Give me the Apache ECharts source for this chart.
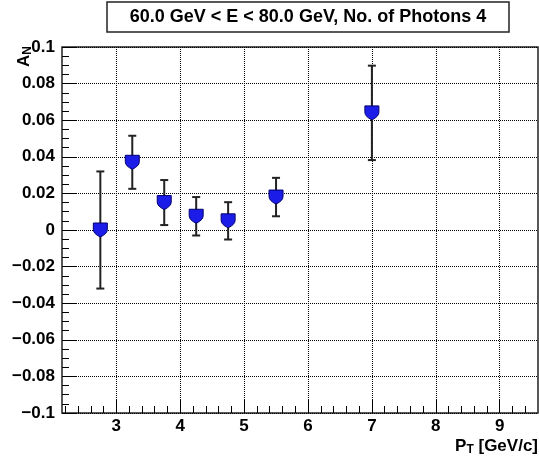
<!DOCTYPE html>
<html>
<head>
<meta charset="utf-8">
<script src="https://cdn.jsdelivr.net/npm/echarts@6/dist/echarts.min.js"></script>
<style>
  html, body { margin: 0; padding: 0; background: #fff; }
  #chart { width: 539px; height: 458px; }
</style>
</head>
<body>
<div id="chart"></div>
<script>
// A_N vs P_T, 60-80 GeV, 4 photons
const titleText = '60.0 GeV < E < 80.0 GeV, No. of Photons 4'
const ptValues = [2.75, 3.25, 3.75, 4.25, 4.75, 5.5, 7.0]
const anValues = [0.0, 0.037, 0.015, 0.0075, 0.005, 0.018, 0.064]
const anErrors = [0.032, 0.0145, 0.0123, 0.0105, 0.0102, 0.0105, 0.0258]
const xMajorTicks = [3, 4, 5, 6, 7, 8, 9]
const xMinorTicks = [2.2, 2.4, 2.6, 2.8, 3.2, 3.4, 3.6, 3.8, 4.2, 4.4, 4.6, 4.8,
  5.2, 5.4, 5.6, 5.8, 6.2, 6.4, 6.6, 6.8, 7.2, 7.4, 7.6, 7.8,
  8.2, 8.4, 8.6, 8.8, 9.2, 9.4]

const FONT = 'Liberation Sans, Arial, Helvetica, sans-serif'

const chart = echarts.init(document.getElementById('chart'))

const pointData = ptValues.map((x, i) => [x, anValues[i], anErrors[i]])

const fmtY = v => {
  const r = Math.round(v * 100) / 100
  if (r === 0) return '0'
  return r < 0 ? '\u2212' + String(-r) : String(r)
}

const option = {
  backgroundColor: '#fff',
  animation: false,
  grid: {
    left: 62, top: 47, right: 1, bottom: 45,
    show: true,
    borderColor: '#222',
    borderWidth: 1.5,
    backgroundColor: 'transparent'
  },
  xAxis: [
    {
      type: 'value',
      min: 2.15,
      max: 9.6,
      axisLine: { show: false, onZero: false },
      axisTick: {
        show: true, inside: true, length: 14,
        customValues: xMajorTicks,
        lineStyle: { color: '#000', width: 1 }
      },
      axisLabel: {
        customValues: xMajorTicks,
        margin: 5,
        color: '#000',
        fontFamily: FONT,
        fontWeight: 'bold',
        fontSize: 17
      },
      splitLine: {
        show: true,
        lineStyle: { color: '#000', type: [1, 1], width: 1 }
      }
    },
    {
      type: 'value',
      min: 2.15,
      max: 9.6,
      position: 'bottom',
      axisLine: { show: false, onZero: false },
      axisTick: {
        show: true, inside: true, length: 7,
        customValues: xMinorTicks,
        lineStyle: { color: '#000', width: 1 }
      },
      axisLabel: { show: false },
      splitLine: { show: false }
    }
  ],
  yAxis: {
    type: 'value',
    min: -0.1,
    max: 0.1,
    interval: 0.02,
    axisLine: { show: false, onZero: false },
    axisTick: {
      show: true, inside: true, length: 14,
      lineStyle: { color: '#000', width: 1 }
    },
    minorTick: {
      show: true, splitNumber: 4, length: 7,
      lineStyle: { color: '#000', width: 1 }
    },
    axisLabel: {
      formatter: fmtY,
      margin: 7,
      color: '#000',
      fontFamily: FONT,
      fontWeight: 'bold',
      fontSize: 17
    },
    splitLine: {
      show: true,
      lineStyle: { color: '#000', type: [1, 1], width: 1 }
    }
  },
  graphic: [
    {
      type: 'rect',
      shape: { x: 107, y: 2, width: 402, height: 30 },
      style: { fill: '#fff', stroke: '#222', lineWidth: 1.5 }
    },
    {
      type: 'text',
      x: 308, y: 17,
      style: {
        text: titleText,
        align: 'center', verticalAlign: 'middle',
        fontFamily: FONT, fontWeight: 'bold', fontSize: 18, fill: '#000'
      }
    },
    {
      type: 'text',
      x: 24, y: 46,
      rotation: Math.PI / 2,
      style: {
        text: '{a|A}{s|N}',
        align: 'right', verticalAlign: 'middle',
        rich: {
          a: { fontFamily: FONT, fontWeight: 'bold', fontSize: 17, fill: '#000' },
          s: { fontFamily: FONT, fontWeight: 'bold', fontSize: 12, fill: '#000', padding: [8, 0, 0, 0] }
        }
      }
    },
    {
      type: 'text',
      x: 538, y: 446,
      style: {
        text: '{a|P}{s|T}{a| [GeV/c]}',
        align: 'right', verticalAlign: 'middle',
        rich: {
          a: { fontFamily: FONT, fontWeight: 'bold', fontSize: 17, fill: '#000' },
          s: { fontFamily: FONT, fontWeight: 'bold', fontSize: 12, fill: '#000', padding: [8, 0, 0, 0] }
        }
      }
    }
  ],
  series: [
    {
      type: 'custom',
      xAxisIndex: 0,
      data: pointData,
      z: 2,
      renderItem: (params, api) => {
        const x = api.value(0)
        const y = api.value(1)
        const e = api.value(2)
        const top = api.coord([x, y + e])
        const bot = api.coord([x, y - e])
        const st = { stroke: '#222', lineWidth: 2 }
        return {
          type: 'group',
          children: [
            { type: 'line', shape: { x1: top[0], y1: top[1], x2: bot[0], y2: bot[1] }, style: st },
            { type: 'line', shape: { x1: top[0] - 4, y1: top[1], x2: top[0] + 4, y2: top[1] }, style: st },
            { type: 'line', shape: { x1: bot[0] - 4, y1: bot[1], x2: bot[0] + 4, y2: bot[1] }, style: st }
          ]
        }
      }
    },
    {
      type: 'scatter',
      xAxisIndex: 0,
      data: pointData,
      z: 3,
      symbol: 'path://M0,0 L12,0 L12,6 Q12,10 6,13 Q0,10 0,6 Z',
      symbolSize: [14, 14],
      itemStyle: {
        color: '#1c1ce8',
        borderColor: '#00006e',
        borderWidth: 1,
        opacity: 1
      }
    }
  ]
}

chart.setOption(option)
</script>
</body>
</html>
